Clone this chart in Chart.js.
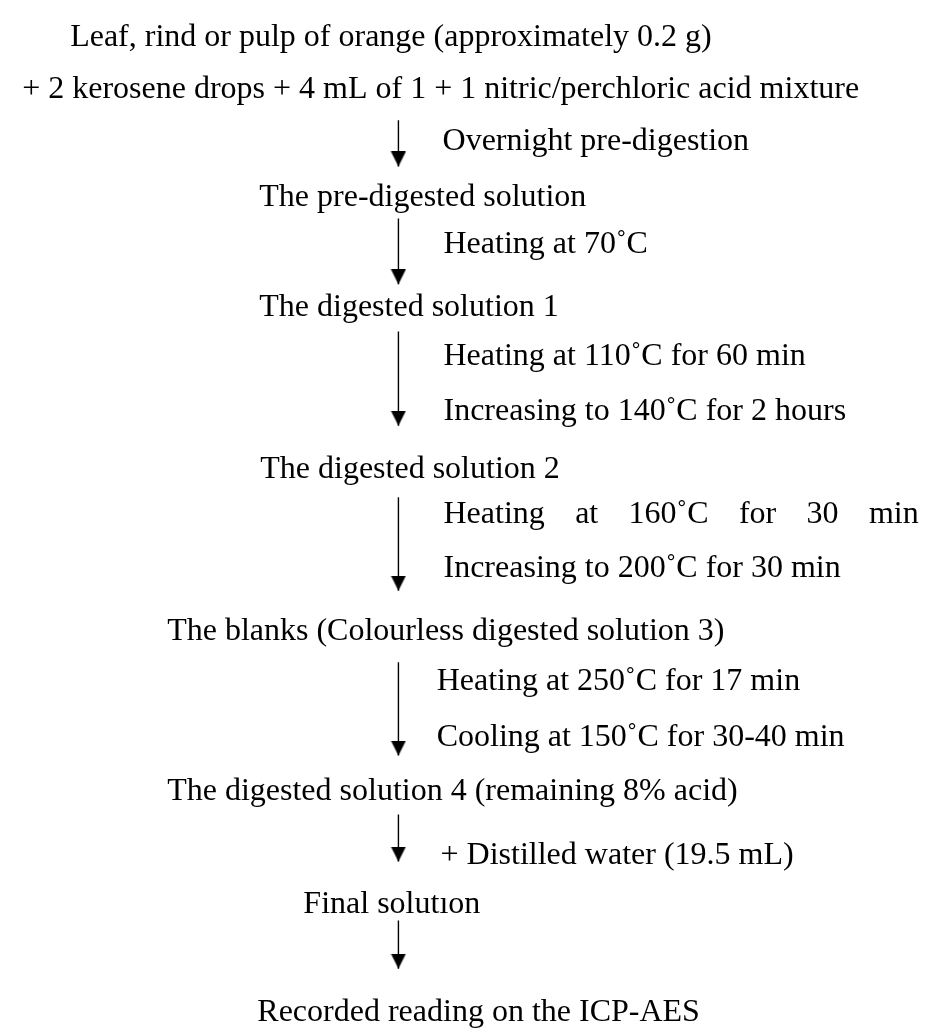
<!DOCTYPE html>
<html>
<head>
<meta charset="utf-8">
<title>Digestion procedure</title>
<script src="https://cdn.jsdelivr.net/npm/chart.js@4.4.1/dist/chart.umd.min.js"></script>
<style>
  html, body { margin:0; padding:0; background:#fff; }
  .wrap { position:relative; width:936px; height:1034px; }
</style>
</head>
<body>
<div class="wrap"><canvas id="flow"></canvas></div>
<script>
// steps of the procedure (page units: left edge, baseline)
const steps = [
  'Leaf, rind or pulp of orange (approximately 0.2 g)',
  '+ 2 kerosene drops + 4 mL of 1 + 1 nitric/perchloric acid mixture',
  'The pre-digested solution',
  'The digested solution 1',
  'The digested solution 2',
  'The blanks (Colourless digested solution 3)',
  'The digested solution 4 (remaining 8% acid)',
  'Final solutıon',
  'Recorded reading on the ICP-AES'
];
const stepX = [62, 13, 255, 255, 256, 161, 161, 300, 253];
const stepY = [37, 90, 200, 312, 477, 642, 805, 920, 1030];

// arrows between steps (all in one column)
const arrowX = [397, 397, 397, 397, 397, 397, 397];
const arrowFrom = [113, 213, 328, 497, 665, 820, 928];
const arrowTo = [160, 280, 424, 592, 760, 868, 977];

// notes written beside each arrow
const notes = [
  ['Overnight pre-digestion'],
  ['Heating at 70˚C'],
  ['Heating at 110˚C for 60 min', 'Increasing to 140˚C for 2 hours'],
  ['Heating at 160˚C for 30 min', 'Increasing to 200˚C for 30 min'],
  ['Heating at 250˚C for 17 min', 'Cooling at 150˚C for 30-40 min'],
  ['+ Distilled water (19.5 mL)'],
  []
];
const noteX = [442, 443, 443, 443, 436, 440, 440];
const noteY = [[143], [248], [362, 418], [523, 578], [693, 750], [870], []];

// this line is justified out to the right margin in the original
const justified = 'Heating at 160˚C for 30 min';
const rightMargin = 928;

// arrow head: tip sits at the centre of the little canvas
const head = document.createElement('canvas');
head.width = 16; head.height = 30;
{
  const hc = head.getContext('2d');
  hc.fillStyle = '#000';
  hc.beginPath();
  hc.moveTo(0.5, 0);
  hc.lineTo(15.5, 0);
  hc.lineTo(8, 15);
  hc.closePath();
  hc.fill();
}

const textPlugin = {
  id: 'flowText',
  afterDatasetsDraw(chart) {
    const ctx = chart.ctx;
    const sx = chart.scales.x, sy = chart.scales.y;
    ctx.save();
    ctx.fillStyle = '#000';
    ctx.font = '32px "Liberation Serif", "Times New Roman", serif';
    ctx.textBaseline = 'alphabetic';
    ctx.textAlign = 'left';

    steps.forEach(function(t, i){
      ctx.fillText(t, sx.getPixelForValue(stepX[i]), sy.getPixelForValue(stepY[i]));
    });

    notes.forEach(function(lines, i){
      lines.forEach(function(t, j){
        const x = sx.getPixelForValue(noteX[i]);
        const y = sy.getPixelForValue(noteY[i][j]);
        if (t === justified) {
          const words = t.split(' ');
          const widths = words.map(w => ctx.measureText(w).width);
          const total = widths.reduce((a, b) => a + b, 0);
          const gap = (sx.getPixelForValue(rightMargin) - x - total) / (words.length - 1);
          let cx = x;
          words.forEach(function(w, k){
            ctx.fillText(w, cx, y);
            cx += widths[k] + gap;
          });
        } else {
          ctx.fillText(t, x, y);
        }
      });
    });
    ctx.restore();
  }
};

const datasets = arrowFrom.map(function(from, i){
  return {
    data: [{x: arrowX[i], y: from}, {x: arrowX[i], y: arrowTo[i]}],
    showLine: true,
    borderColor: '#000',
    borderWidth: 1.4,
    pointStyle: head,
    pointRadius: c => c.dataIndex === 1 ? 8 : 0,
    pointHoverRadius: 0
  };
});

new Chart(document.getElementById('flow'), {
  type: 'scatter',
  data: { datasets: datasets },
  options: {
    responsive: true,
    maintainAspectRatio: false,
    animation: false,
    events: [],
    layout: { padding: 0 },
    plugins: { legend: { display: false }, tooltip: { enabled: false } },
    scales: {
      x: { type: 'linear', min: 0, max: 936, display: false },
      y: { type: 'linear', min: 0, max: 1034, reverse: true, display: false }
    }
  },
  plugins: [textPlugin]
});
</script>
</body>
</html>
